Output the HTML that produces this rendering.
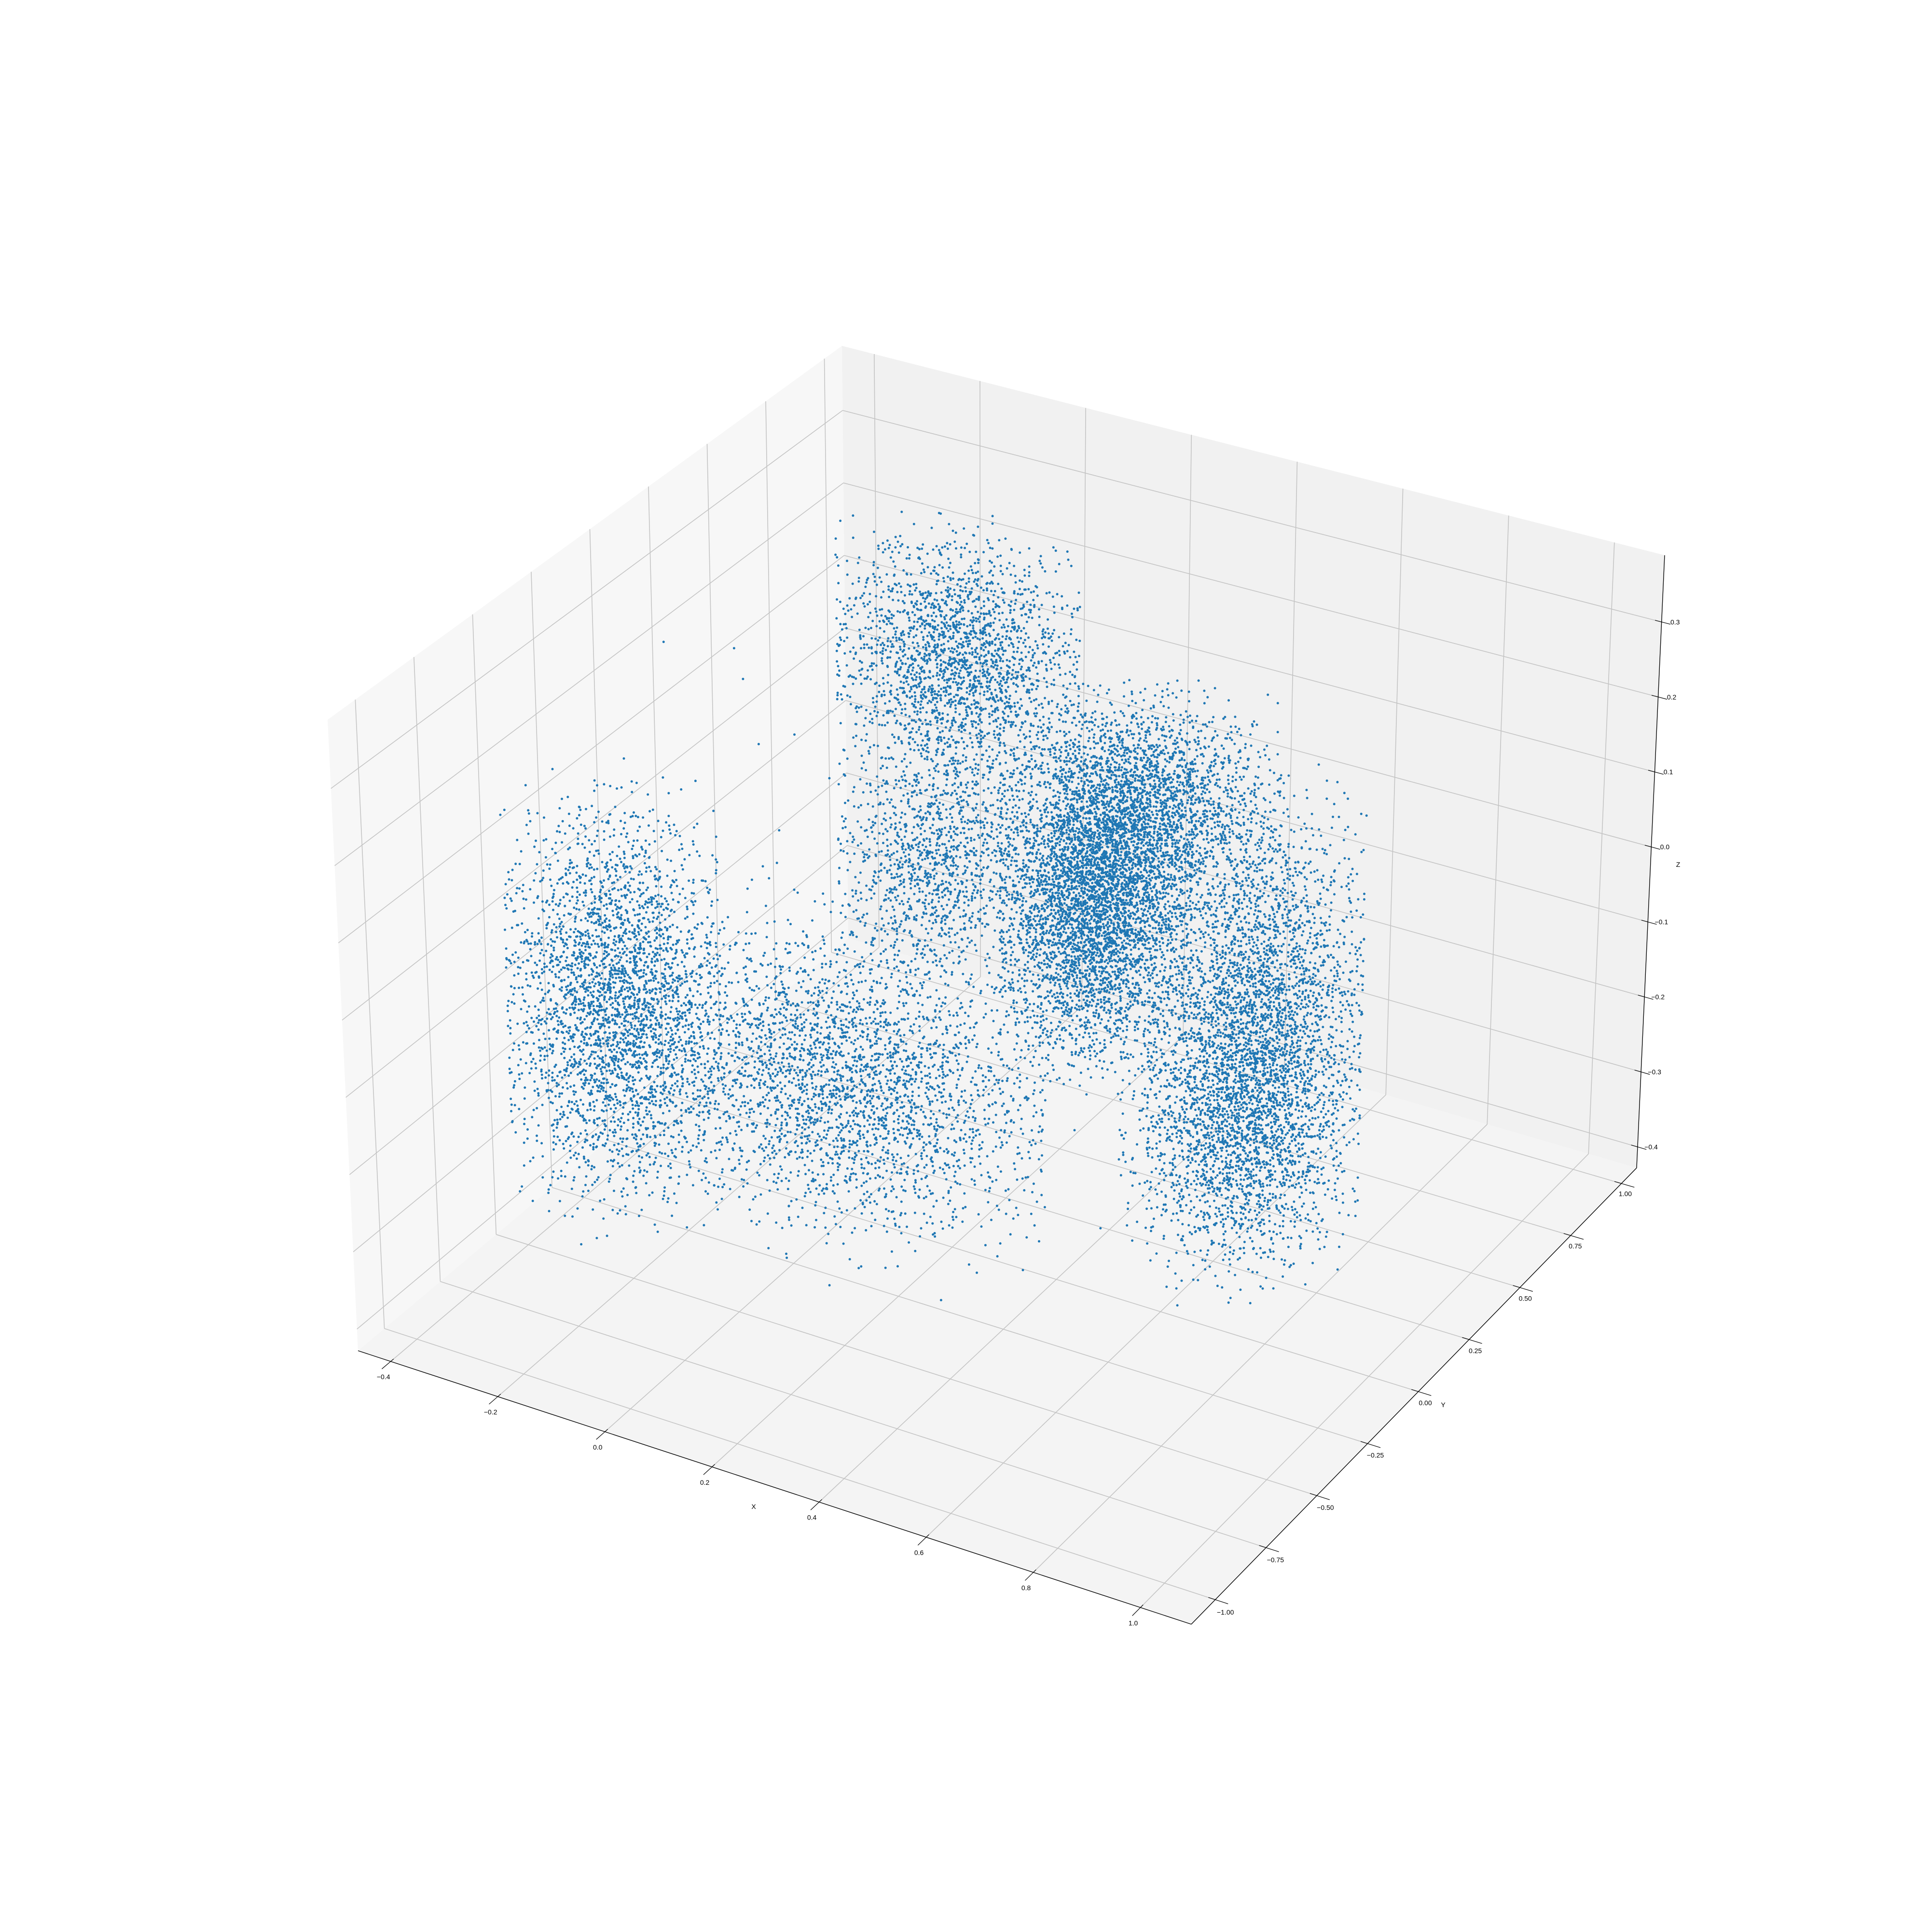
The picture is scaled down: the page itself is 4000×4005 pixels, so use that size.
<!DOCTYPE html>
<html>
<head>
<meta charset="utf-8">
<style>
  html,body{margin:0;padding:0;background:#ffffff;}
  body{width:4000px;height:4000px;overflow:hidden;}
  svg text{font-family:"Liberation Sans","DejaVu Sans",sans-serif;font-size:14px;fill:#000;}
</style>
</head>
<body>
<svg id="chart" xmlns="http://www.w3.org/2000/svg" width="4000" height="4000" viewBox="0 0 4000 4000">
  <rect x="0" y="0" width="4000" height="4000" fill="#ffffff"/>
  <g id="panes"></g>
  <g id="grid"></g>
  <g id="points"></g>
  <g id="axes"></g>
  <g id="labels"></g>
</svg>
<script>
// ---- chart data ----
const xTicks = [-0.4, -0.2, 0.0, 0.2, 0.4, 0.6, 0.8, 1.0];
const yTicks = [-1.0, -0.75, -0.5, -0.25, 0.0, 0.25, 0.5, 0.75, 1.0];
const zTicks = [-0.4, -0.3, -0.2, -0.1, 0.0, 0.1, 0.2, 0.3];
const xLim = [-0.461, 1.095];
const yLim = [-1.118, 1.075];
const zLim = [-0.428, 0.389];
// point clusters (data coordinates)
const clusterX = [-0.24, 0.04, 0.48, 0.78, 0.74, 0.18, 0.44, 0.18, 0.30];
const clusterY = [-0.46, 0.42, -0.02, -0.02, -0.02, -0.46, 0.42, -0.02, 0.00];
const clusterZ = [-0.085, 0.21, 0.10, -0.03, -0.17, -0.10, 0.10, 0.08, 0.00];
const spreadX = [0.08, 0.10, 0.07, 0.075, 0.09, 0.17, 0.09, 0.07, 0.30];
const spreadY = [0.12, 0.10, 0.12, 0.15, 0.12, 0.15, 0.10, 0.12, 0.30];
const spreadZ = [0.12, 0.075, 0.10, 0.13, 0.07, 0.08, 0.06, 0.07, 0.15];
const clusterCount = [3000, 2200, 5000, 3800, 900, 3000, 1500, 1200, 200];

// ---- projection (box corners in pixels) ----
const C = {
  c000:[742,2800], c100:[2469,3367], c010:[1758,1945], c110:[3392,2421],
  c001:[679,1492], c101:[2485,1987], c011:[1745,717], c111:[3450,1151]
};
function lerp(a,b,t){return [a[0]+(b[0]-a[0])*t, a[1]+(b[1]-a[1])*t];}
function proj(x,y,z){
  const u=(x-xLim[0])/(xLim[1]-xLim[0]);
  const v=(y-yLim[0])/(yLim[1]-yLim[0]);
  const w=(z-zLim[0])/(zLim[1]-zLim[0]);
  const b=lerp(lerp(C.c000,C.c100,u),lerp(C.c010,C.c110,u),v);
  const t=lerp(lerp(C.c001,C.c101,u),lerp(C.c011,C.c111,u),v);
  return lerp(b,t,w);
}
const NS="http://www.w3.org/2000/svg";
function mk(tag,parent){const e=document.createElementNS(NS,tag);parent.appendChild(e);return e;}
function pts(arr){return arr.map(p=>p[0].toFixed(1)+","+p[1].toFixed(1)).join(" ");}

// panes
const panes=document.getElementById('panes');
const X0=xLim[0],X1=xLim[1],Y0=yLim[0],Y1=yLim[1],Z0=zLim[0],Z1=zLim[1];
let p=mk('polygon',panes);


p.setAttribute('points',pts([proj(X0,Y0,Z0),proj(X0,Y1,Z0),proj(X0,Y1,Z1),proj(X0,Y0,Z1)]));
p.setAttribute('fill','#f7f7f7');
p=mk('polygon',panes);


p.setAttribute('points',pts([proj(X0,Y1,Z0),proj(X1,Y1,Z0),proj(X1,Y1,Z1),proj(X0,Y1,Z1)]));
p.setAttribute('fill','#f1f1f1');
p=mk('polygon',panes);


p.setAttribute('points',pts([proj(X0,Y0,Z0),proj(X1,Y0,Z0),proj(X1,Y1,Z0),proj(X0,Y1,Z0)]));
p.setAttribute('fill','#f4f4f4');

// grid
const grid=document.getElementById('grid');
function gline(a,b,name){
  const l=mk('line',grid);
  
  
  l.setAttribute('x1',a[0]);l.setAttribute('y1',a[1]);l.setAttribute('x2',b[0]);l.setAttribute('y2',b[1]);
  l.setAttribute('stroke','#c4c4c4');l.setAttribute('stroke-width','1.6');
}
xTicks.forEach(x=>{gline(proj(x,Y0,Z0),proj(x,Y1,Z0),'x-grid-floor');gline(proj(x,Y1,Z0),proj(x,Y1,Z1),'x-grid-back');});
yTicks.forEach(y=>{gline(proj(X0,y,Z0),proj(X1,y,Z0),'y-grid-floor');gline(proj(X0,y,Z0),proj(X0,y,Z1),'y-grid-left');});
zTicks.forEach(z=>{gline(proj(X0,Y0,z),proj(X0,Y1,z),'z-grid-left');gline(proj(X0,Y1,z),proj(X1,Y1,z),'z-grid-back');});

// points
function halton(i,b){let f=1,r=0;while(i>0){f/=b;r+=f*(i%b);i=Math.floor(i/b);}return r;}
const ptsG=document.getElementById('points');
let frag=document.createDocumentFragment();
let idx=1;
for(let c=0;c<clusterCount.length;c++){
  for(let k=0;k<clusterCount[c];k++){
    idx++;
    const h2=Math.max(halton(idx,2),1e-4),h3=halton(idx,3),h5=Math.max(halton(idx,5),1e-4),h7=halton(idx,7);
    const r1=Math.min(Math.sqrt(-2*Math.log(h2)),2.1),r2=Math.min(Math.sqrt(-2*Math.log(h5)),2.1);
    const gx=r1*Math.cos(2*Math.PI*h3),gy=r1*Math.sin(2*Math.PI*h3),gz=r2*Math.cos(2*Math.PI*h7);
    const x=clusterX[c]+gx*spreadX[c],y=clusterY[c]+gy*spreadY[c],z=clusterZ[c]+gz*spreadZ[c];
    if(x<X0||x>X1||y<Y0||y>Y1||z<Z0||z>Z1)continue;
    const s=proj(x,y,z);
    const e=document.createElementNS(NS,'circle');
    
    
    e.setAttribute('cx',s[0].toFixed(1));e.setAttribute('cy',s[1].toFixed(1));e.setAttribute('r','2.5');
    frag.appendChild(e);
  }
}
ptsG.setAttribute('fill','#1f77b4');
ptsG.appendChild(frag);

// axes lines and ticks
const axes=document.getElementById('axes');
const labels=document.getElementById('labels');
function aline(a,b,name,w){
  const l=mk('line',axes);
  
  
  l.setAttribute('x1',a[0]);l.setAttribute('y1',a[1]);l.setAttribute('x2',b[0]);l.setAttribute('y2',b[1]);
  l.setAttribute('stroke','#000');l.setAttribute('stroke-width',w);
}
function txt(x,y,s,name){
  const t=mk('text',labels);
  
  
  t.setAttribute('x',x.toFixed(1));t.setAttribute('y',y.toFixed(1));
  t.setAttribute('text-anchor','middle');t.setAttribute('dominant-baseline','central');
  t.textContent=s;
}
function fmt(v,d){let s=Math.abs(v)<1e-9?(0).toFixed(d):v.toFixed(d);return s.replace('-','\u2212');}
aline(proj(X0,Y0,Z0),proj(X1,Y0,Z0),'x-axis-line','1.4');
aline(proj(X1,Y0,Z0),proj(X1,Y1,Z0),'y-axis-line','1.4');
aline(proj(X1,Y1,Z0),proj(X1,Y1,Z1),'z-axis-line','1.4');
function unit(a,b){const dx=b[0]-a[0],dy=b[1]-a[1],L=Math.hypot(dx,dy);return [dx/L,dy/L];}
xTicks.forEach(x=>{
  const a=proj(x,Y0,Z0),d=unit(proj(x,Y0,Z0),proj(x,Y1,Z0));
  aline([a[0]+d[0]*8,a[1]+d[1]*8],[a[0]-d[0]*24,a[1]-d[1]*24],'x-tick','1.2');
  txt(a[0]-15,a[1]+32,fmt(x,1),'x-tick-label');
});
yTicks.forEach(y=>{
  const a=proj(X1,y,Z0),d=unit(proj(X0,y,Z0),proj(X1,y,Z0));
  aline([a[0]-d[0]*15,a[1]-d[1]*15],[a[0]+d[0]*28,a[1]+d[1]*28],'y-tick','1.2');
  const f=(y-yTicks[0])/(yTicks[yTicks.length-1]-yTicks[0]);
  txt(a[0]+21-13*f,a[1]+26-5*f,fmt(y,2),'y-tick-label');
});
zTicks.forEach(z=>{
  const a=proj(X1,Y1,z),d=unit(proj(X0,Y1,z),proj(X1,Y1,z));
  aline([a[0]-d[0]*14,a[1]-d[1]*14],[a[0]+d[0]*19,a[1]+d[1]*19],'z-tick','1.2');
  txt(a[0]+28,a[1],fmt(z,1),'z-tick-label');
});
txt(1562,3123,'X','x-axis-title');
txt(2991,2912,'Y','y-axis-title');
txt(3478,1792,'Z','z-axis-title');
</script>
</body>
</html>
